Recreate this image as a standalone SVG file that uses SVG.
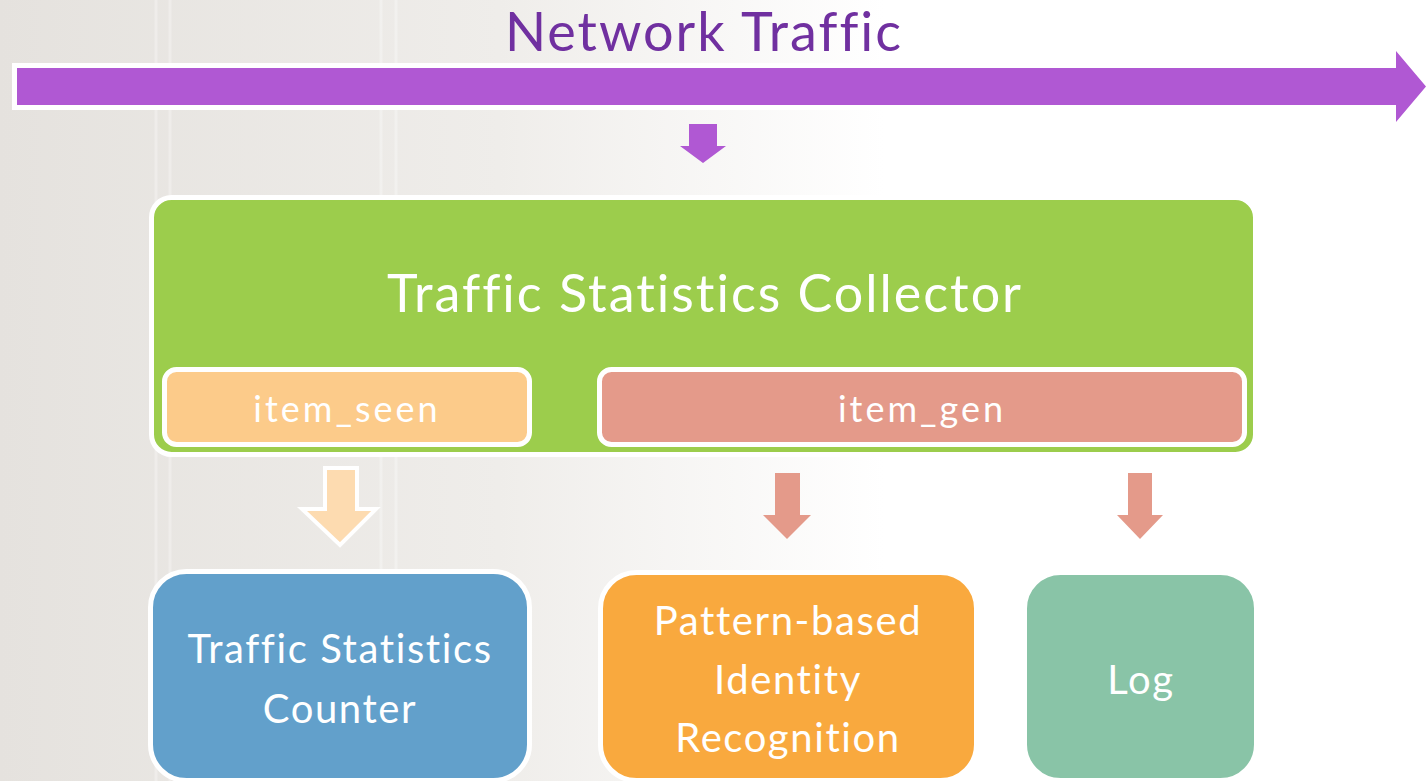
<svg xmlns="http://www.w3.org/2000/svg" width="1426" height="781" viewBox="0 0 1426 781">
  <defs>
    <linearGradient id="bg" x1="0" y1="0" x2="1" y2="0">
      <stop offset="0" stop-color="#e5e2de"/>
      <stop offset="0.35" stop-color="#efedea"/>
      <stop offset="0.62" stop-color="#ffffff"/>
      <stop offset="1" stop-color="#ffffff"/>
    </linearGradient>
  </defs>
  <style>
    text { font-family: Lato, "Noto Sans", "Liberation Sans", sans-serif; fill: #ffffff; text-anchor: middle; letter-spacing: 2px; }
    .title { font-size: 54px; fill: #7030a0; }
    .head { font-size: 52px; }
    .sub { font-size: 36px; letter-spacing: 3px; }
    .lbl { font-size: 40px; letter-spacing: 1.6px; }
    .outline { stroke: #ffffff; stroke-width: 5; }
    .deco { stroke: #ffffff; stroke-width: 3; opacity: 0.3; }
  </style>

  <g id="background">
    <rect x="0" y="0" width="1426" height="781" fill="url(#bg)"/>
    <line class="deco" x1="156" y1="0" x2="156" y2="781"/>
    <line class="deco" x1="170" y1="0" x2="170" y2="781"/>
    <line class="deco" x1="381" y1="0" x2="381" y2="781"/>
    <line class="deco" x1="396" y1="0" x2="396" y2="781"/>
  </g>

  <g id="network-traffic">
    <text class="title" x="704" y="51">Network Traffic</text>
    <rect x="12" y="63" width="1390" height="47" fill="#ffffff"/>
    <path d="M17,68 H1396 V51 L1426,86.5 L1396,122 V105 H17 Z" fill="#b058d3"/>
  </g>

  <g id="connectors">
    <path d="M689,124 H717 V146 H726 L703,163 L680,146 H689 Z" fill="#b058d3"/>
    <path d="M325,468 H357 V509 H376 L340,545 L302,509 H325 Z" fill="#fddbb0" stroke="#ffffff" stroke-width="4" stroke-linejoin="miter"/>
    <path d="M775,473 H800 V515 H811 L787,539 L763,515 H775 Z" fill="#e49a8a"/>
    <path d="M1128,473 H1152 V515 H1163 L1140,539 L1117,515 H1128 Z" fill="#e49a8a"/>
  </g>

  <g id="collector">
    <rect class="outline" x="151.5" y="197.5" width="1104" height="257" rx="20" fill="#9ccd4c"/>
    <text class="head" x="705" y="312">Traffic Statistics Collector</text>
  </g>

  <g id="item-seen">
    <rect class="outline" x="164.5" y="369.5" width="365" height="75" rx="12" fill="#fccb8a"/>
    <text class="sub" x="347" y="422">item_seen</text>
  </g>

  <g id="item-gen">
    <rect class="outline" x="599.5" y="369.5" width="645" height="75" rx="12" fill="#e49a8a"/>
    <text class="sub" x="922" y="422">item_gen</text>
  </g>

  <g id="counter">
    <rect class="outline" x="150.5" y="571.5" width="379" height="209" rx="36" fill="#62a0cb"/>
    <text class="lbl" x="340" y="663">Traffic Statistics</text>
    <text class="lbl" x="340" y="723">Counter</text>
  </g>

  <g id="pattern">
    <rect class="outline" x="600.5" y="572.5" width="376" height="208" rx="36" fill="#f9a93e"/>
    <text class="lbl" x="788" y="635">Pattern-based</text>
    <text class="lbl" x="788" y="694">Identity</text>
    <text class="lbl" x="788" y="752">Recognition</text>
  </g>

  <g id="log">
    <rect class="outline" x="1024.5" y="572.5" width="232" height="208" rx="36" fill="#89c4a7"/>
    <text class="lbl" x="1141" y="694">Log</text>
  </g>
</svg>
